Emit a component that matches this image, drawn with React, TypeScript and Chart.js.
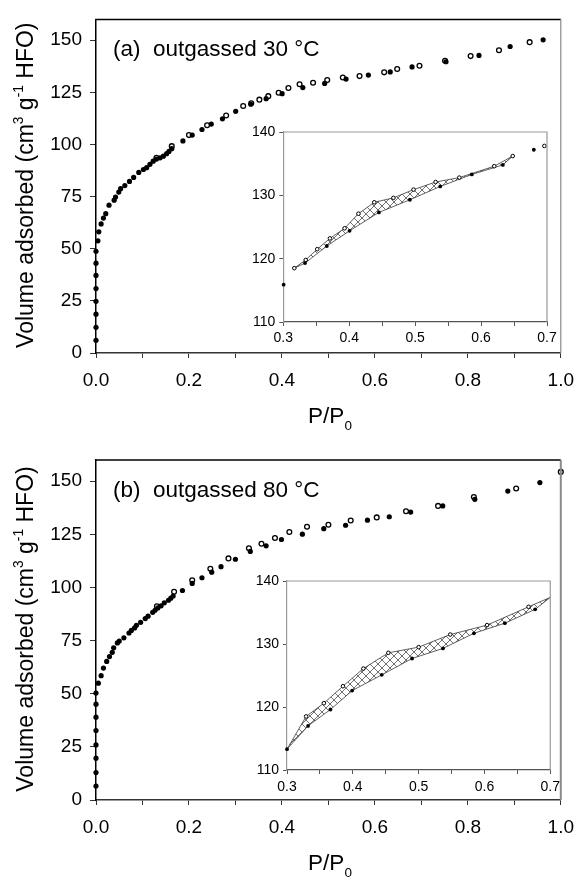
import React, { useEffect, useRef } from 'react';
import { Chart, registerables } from 'chart.js';

Chart.register(...registerables);

const FONT = "Arial, 'Liberation Sans', Helvetica, sans-serif";

// ---------- Panel (a): outgassed 30 °C ----------
const ADS_A_P = [0, 0, 0, 0, 0, 0, 0, 0,
  0.004, 0.006, 0.011, 0.016, 0.021, 0.028, 0.039, 0.042, 0.049, 0.053,
  0.062, 0.072, 0.081, 0.092, 0.102, 0.109, 0.116, 0.123, 0.13, 0.138,
  0.145, 0.152, 0.157, 0.163, 0.187, 0.207, 0.228, 0.248, 0.272, 0.3005,
  0.333, 0.366, 0.4005, 0.445, 0.492, 0.538, 0.586, 0.633, 0.68, 0.753,
  0.824, 0.891, 0.962];
const ADS_A_V = [6.1, 12.3, 18.6, 24.8, 30.9, 37.2, 43.1, 48.8,
  53.8, 58.1, 61.9, 64.7, 66.8, 70.9, 73.3, 74.8, 77.2, 78.8,
  80.3, 82.3, 84.2, 86.6, 88, 88.9, 90.5, 92, 93, 93.6,
  94.4, 95.6, 96.7, 98, 101.7, 104.5, 107.2, 109.8, 112.3, 115.9,
  119.3, 122, 124.4, 127.3, 129.3, 131.4, 133.3, 134.8, 137.2, 139.7,
  142.7, 147, 150.2];
const DES_A_P = [0.13, 0.163, 0.2, 0.239, 0.28, 0.3167, 0.334, 0.3515, 0.3707, 0.393,
  0.414, 0.438, 0.467, 0.4975, 0.531, 0.567, 0.62, 0.648, 0.696, 0.751,
  0.806, 0.867, 0.933];
const DES_A_V = [93.6, 99.2, 104.5, 109.2, 113.9, 118.5, 119.8, 121.5, 123.2, 124.8,
  127.1, 128.9, 129.6, 130.9, 132.1, 132.8, 134.6, 136.2, 137.8, 140.2,
  142.4, 145.2, 149.1];
// hysteresis loop range (desorption branch / adsorption branch)
const LOOP_A_DES = [0.31, 0.65];
const LOOP_A_ADS = [0.325, 0.64];

// ---------- Panel (b): outgassed 80 °C ----------
const ADS_B_P = [0, 0, 0, 0, 0, 0, 0, 0,
  0.005, 0.011, 0.016, 0.023, 0.029, 0.035, 0.038, 0.046, 0.05, 0.06,
  0.071, 0.076, 0.083, 0.087, 0.096, 0.106, 0.112, 0.122, 0.127, 0.133,
  0.14, 0.147, 0.156, 0.161, 0.166, 0.186, 0.207, 0.228, 0.249, 0.269,
  0.3, 0.332, 0.366, 0.399, 0.444, 0.49, 0.537, 0.584, 0.631, 0.677,
  0.746, 0.815, 0.886, 0.955];
const ADS_B_V = [6.6, 12.9, 19.7, 25.9, 32.7, 39, 45.1, 50.3,
  55, 58.5, 62.1, 65.2, 67.5, 69.5, 71.6, 73.9, 74.8, 76.3,
  78.6, 79.8, 81, 82.2, 83.6, 85.4, 86.5, 88.3, 89.3, 90.4,
  91.4, 92.8, 94, 95, 96, 98.6, 101.9, 104.6, 107.2, 109.8,
  113.3, 117, 119.6, 122.6, 125.1, 127.7, 129.3, 131.7, 133.3, 135.5,
  138.4, 141.5, 145.4, 149.4];
const DES_B_P = [0.131, 0.168, 0.207, 0.246, 0.285, 0.329, 0.356, 0.385, 0.416, 0.454,
  0.5, 0.548, 0.604, 0.667, 0.736, 0.813, 0.904, 1.0];
const DES_B_V = [91.2, 98, 103.4, 108.8, 113.7, 118.5, 120.6, 123.3, 126.1, 128.6,
  129.5, 131.5, 133, 135.9, 138.4, 142.6, 146.6, 154.4];
const LOOP_B_START = [0.3, 113.3];
const LOOP_B_END = [0.7, 137.4];
const LOOP_B_DES = [0.32, 0.67];
const LOOP_B_ADS = [0.32, 0.68];

// ---------- ticks ----------
const MAIN_X_TICKS = [0, 0.1, 0.2, 0.3, 0.4, 0.5, 0.6, 0.7, 0.8, 0.9, 1.0];
const MAIN_X_LABELS = [0, 0.2, 0.4, 0.6, 0.8, 1.0];
const MAIN_Y_TICKS = [0, 25, 50, 75, 100, 125, 150];
const INSET_X_TICKS = [0.3, 0.35, 0.4, 0.45, 0.5, 0.55, 0.6, 0.65, 0.7];
const INSET_X_LABELS = [0.3, 0.4, 0.5, 0.6, 0.7];
const INSET_Y_TICKS = [110, 120, 130, 140];

type Pt = { x: number; y: number };
const pts = (p: number[], v: number[]): Pt[] => p.map((x, i) => ({ x, y: v[i] }));
const inRange = (arr: Pt[], r: number[]) => arr.filter((d) => d.x >= r[0] && d.x <= r[1]);

type Seg = { t: string; k: 'n' | 'sup' | 'sub' };
const Y_TITLE: Seg[] = [
  { t: 'Volume adsorbed (cm', k: 'n' },
  { t: '3', k: 'sup' },
  { t: ' g', k: 'n' },
  { t: '-1', k: 'sup' },
  { t: ' HFO)', k: 'n' },
];
const X_TITLE: Seg[] = [
  { t: 'P/P', k: 'n' },
  { t: '0', k: 'sub' },
];

function drawRich(ctx: CanvasRenderingContext2D, segs: Seg[], x: number, y: number, size: number, rotate: boolean) {
  ctx.save();
  ctx.translate(x, y);
  if (rotate) ctx.rotate(-Math.PI / 2);
  ctx.textAlign = 'left';
  ctx.textBaseline = 'alphabetic';
  ctx.fillStyle = '#000';
  const small = size * 0.6;
  const widths = segs.map((s) => {
    ctx.font = `${s.k === 'n' ? size : small}px ${FONT}`;
    return ctx.measureText(s.t).width;
  });
  const total = widths.reduce((a, b) => a + b, 0);
  let cx = -total / 2;
  segs.forEach((s, i) => {
    ctx.font = `${s.k === 'n' ? size : small}px ${FONT}`;
    const dy = s.k === 'sup' ? -size * 0.42 : s.k === 'sub' ? size * 0.3 : 0;
    ctx.fillText(s.t, cx, dy);
    cx += widths[i];
  });
  ctx.restore();
}

function makeHatch(): CanvasPattern | string {
  const s = 8;
  const c = document.createElement('canvas');
  c.width = s;
  c.height = s;
  const g = c.getContext('2d');
  if (!g) return 'rgba(0,0,0,0.2)';
  g.strokeStyle = '#606060';
  g.lineWidth = 0.9;
  g.beginPath();
  g.moveTo(0, 0);
  g.lineTo(s, s);
  g.moveTo(0, s);
  g.lineTo(s, 0);
  g.stroke();
  return g.createPattern(c, 'repeat') || 'rgba(0,0,0,0.2)';
}

const hasVal = (list: number[], v: number) => list.some((l) => Math.abs(l - v) < 1e-6);

function mainConfig(ads: Pt[], des: Pt[], label: string, padTop: number, canvasH: number, plotBottom: number, rightWidth: number): any {
  const annot = {
    id: 'annot',
    afterDraw(chart: any) {
      const ctx: CanvasRenderingContext2D = chart.ctx;
      const a = chart.chartArea;
      ctx.save();
      ctx.strokeStyle = '#000';
      ctx.lineWidth = 1.5;
      ctx.beginPath();
      ctx.moveTo(a.left - 0.75, a.top);
      ctx.lineTo(a.right, a.top);
      ctx.stroke();
      ctx.strokeStyle = '#8a8a8a';
      ctx.lineWidth = rightWidth;
      ctx.beginPath();
      ctx.moveTo(a.right, a.top);
      ctx.lineTo(a.right, a.bottom);
      ctx.stroke();
      ctx.fillStyle = '#000';
      ctx.font = `22.5px ${FONT}`;
      ctx.textAlign = 'left';
      ctx.textBaseline = 'alphabetic';
      ctx.fillText(label, 113, a.top + 37);
      drawRich(ctx, Y_TITLE, 33, (a.top + a.bottom) / 2 - 1, 23, true);
      drawRich(ctx, X_TITLE, 330, a.bottom + 70, 22.5, false);
      ctx.restore();
    },
  };
  return {
    type: 'scatter',
    data: {
      datasets: [
        {
          data: ads, pointRadius: 2.6, pointBackgroundColor: '#000', pointBorderColor: '#000',
          pointBorderWidth: 0, showLine: false, clip: false,
        },
        {
          data: des, pointRadius: 2.4, pointBackgroundColor: '#fff', pointBorderColor: '#000',
          pointBorderWidth: 1.3, showLine: false, clip: false,
        },
      ],
    },
    options: {
      responsive: false,
      animation: false,
      devicePixelRatio: 1,
      layout: { padding: { top: padTop, right: 17, left: 0, bottom: 0 } },
      plugins: { legend: { display: false }, tooltip: { enabled: false } },
      scales: {
        x: {
          type: 'linear', min: 0, max: 1,
          afterBuildTicks: (s: any) => { s.ticks = MAIN_X_TICKS.map((v) => ({ value: v })); },
          afterFit: (s: any) => { s.height = canvasH - plotBottom; },
          ticks: {
            font: { family: FONT, size: 19 }, color: '#000', padding: 11, maxRotation: 0, autoSkip: false,
            callback: (v: number) => (hasVal(MAIN_X_LABELS, v) ? v.toFixed(1) : ''),
          },
          grid: { drawOnChartArea: false, drawTicks: true, tickLength: 5, color: '#333', lineWidth: 1 },
          border: { display: true, color: '#333', width: 1.5 },
        },
        y: {
          type: 'linear', min: 0, max: 160,
          afterBuildTicks: (s: any) => { s.ticks = MAIN_Y_TICKS.map((v) => ({ value: v })); },
          afterFit: (s: any) => { s.width = 96; },
          ticks: { font: { family: FONT, size: 19 }, color: '#000', padding: 8, autoSkip: false },
          grid: { drawOnChartArea: false, drawTicks: true, tickLength: 6, color: '#333', lineWidth: 1 },
          border: { display: true, color: '#000', width: 1.5 },
        },
      },
    },
    plugins: [annot],
  };
}

function insetConfig(ads: Pt[], des: Pt[], loop: Pt[], hatch: any, pad: { top: number; right: number }, yWidth: number, xHeight: number, xPad: number): any {
  const frame = {
    id: 'frame',
    afterDraw(chart: any) {
      const ctx: CanvasRenderingContext2D = chart.ctx;
      const a = chart.chartArea;
      ctx.save();
      ctx.strokeStyle = '#999';
      ctx.lineWidth = 1.2;
      ctx.beginPath();
      ctx.moveTo(a.left, a.top);
      ctx.lineTo(a.right, a.top);
      ctx.lineTo(a.right, a.bottom);
      ctx.stroke();
      ctx.restore();
    },
  };
  return {
    type: 'scatter',
    data: {
      datasets: [
        {
          data: ads, pointRadius: 1.9, pointBackgroundColor: '#000', pointBorderColor: '#000',
          pointBorderWidth: 0, showLine: false, clip: false, order: 1,
        },
        {
          data: des, pointRadius: 1.8, pointBackgroundColor: '#fff', pointBorderColor: '#000',
          pointBorderWidth: 1, showLine: false, clip: false, order: 2,
        },
        {
          data: loop, showLine: true, fill: 'shape', backgroundColor: hatch, borderColor: '#3a3a3a',
          borderWidth: 0.8, pointRadius: 0, tension: 0, clip: false, order: 3,
        },
      ],
    },
    options: {
      responsive: false,
      animation: false,
      devicePixelRatio: 1,
      layout: { padding: { top: pad.top, right: pad.right, left: 0, bottom: 0 } },
      plugins: { legend: { display: false }, tooltip: { enabled: false } },
      scales: {
        x: {
          type: 'linear', min: 0.3, max: 0.7,
          afterBuildTicks: (s: any) => { s.ticks = INSET_X_TICKS.map((v) => ({ value: v })); },
          afterFit: (s: any) => { s.height = xHeight; },
          ticks: {
            font: { family: FONT, size: 14 }, color: '#000', padding: xPad, maxRotation: 0, autoSkip: false,
            callback: (v: number) => (hasVal(INSET_X_LABELS, v) ? v.toFixed(1) : ''),
          },
          grid: { drawOnChartArea: false, drawTicks: true, tickLength: 4, color: '#555', lineWidth: 1 },
          border: { display: true, color: '#555', width: 1.2 },
        },
        y: {
          type: 'linear', min: 110, max: 140,
          afterBuildTicks: (s: any) => { s.ticks = INSET_Y_TICKS.map((v) => ({ value: v })); },
          afterFit: (s: any) => { s.width = yWidth; },
          ticks: { font: { family: FONT, size: 14 }, color: '#000', padding: 4, autoSkip: false },
          grid: { drawOnChartArea: false, drawTicks: true, tickLength: 4, color: '#555', lineWidth: 1 },
          border: { display: true, color: '#999', width: 1.2 },
        },
      },
    },
    plugins: [frame],
  };
}

export default function App() {
  const refA = useRef<HTMLCanvasElement>(null);
  const refB = useRef<HTMLCanvasElement>(null);
  const refIA = useRef<HTMLCanvasElement>(null);
  const refIB = useRef<HTMLCanvasElement>(null);

  useEffect(() => {
    const hatch = makeHatch();
    const adsA = pts(ADS_A_P, ADS_A_V);
    const desA = pts(DES_A_P, DES_A_V);
    const adsB = pts(ADS_B_P, ADS_B_V);
    const desB = pts(DES_B_P, DES_B_V);

    const upA = inRange(desA, LOOP_A_DES);
    const loA = inRange(adsA, LOOP_A_ADS).slice().reverse();
    const loopA = [...upA, ...loA, upA[0]];

    const startB = { x: LOOP_B_START[0], y: LOOP_B_START[1] };
    const endB = { x: LOOP_B_END[0], y: LOOP_B_END[1] };
    const upB = inRange(desB, LOOP_B_DES);
    const loB = inRange(adsB, LOOP_B_ADS).slice().reverse();
    const loopB = [startB, ...upB, endB, ...loB, startB];

    const win = [0.299, 0.701];
    const charts = [
      new Chart(refA.current as HTMLCanvasElement, mainConfig(adsA, desA, '(a)  outgassed 30 °C', 12, 439, 353, 1.2)),
      new Chart(refB.current as HTMLCanvasElement, mainConfig(adsB, desB, '(b)  outgassed 80 °C', 21, 439, 361, 2)),
      new Chart(refIA.current as HTMLCanvasElement,
        insetConfig(inRange(adsA, win), inRange(desA, win), loopA, hatch, { top: 14, right: 18 }, 53.3, 28, 4)),
      new Chart(refIB.current as HTMLCanvasElement,
        insetConfig(inRange(adsB, win), inRange(desB, win), loopB, hatch, { top: 13, right: 14 }, 53, 30, 5)),
    ];
    return () => charts.forEach((c) => c.destroy());
  }, []);

  return (
    <div style={{ position: 'absolute', left: 0, top: 0, width: 585, height: 878, background: '#fff', overflow: 'hidden' }}>
      <canvas ref={refA} width={585} height={439} style={{ position: 'absolute', left: 0, top: 0 }} />
      <canvas ref={refB} width={585} height={439} style={{ position: 'absolute', left: 0, top: 439 }} />
      <canvas ref={refIA} width={335} height={232} style={{ position: 'absolute', left: 230, top: 118 }} />
      <canvas ref={refIB} width={331} height={232} style={{ position: 'absolute', left: 234, top: 568 }} />
    </div>
  );
}
